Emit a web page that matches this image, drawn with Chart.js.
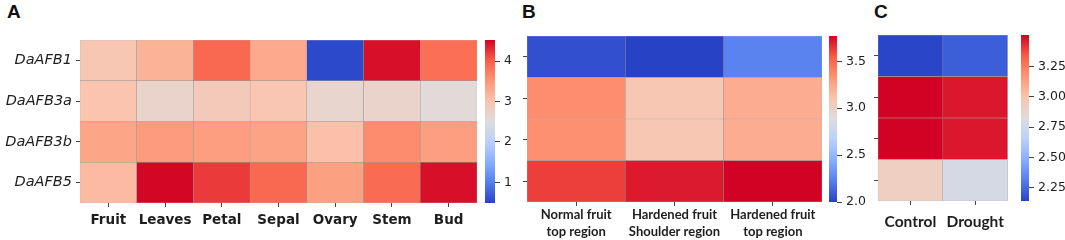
<!DOCTYPE html>
<html>
<head>
<meta charset="utf-8">
<script src="https://cdn.jsdelivr.net/npm/chart.js@4.4.1/dist/chart.umd.min.js"></script>
<style>
    body {margin: 0; width: 1065px; height: 240px; background: #fff; position: relative; overflow: hidden;}
    canvas {position: absolute; top: 0;}
    .tag {position: absolute; top: 2px; font: bold 19px "Liberation Sans", Arial, sans-serif; line-height: 19px; color: #111;}
</style>
</head>
<body>
<div class="tag" style="left:7px">A</div>
<div class="tag" style="left:522px">B</div>
<div class="tag" style="left:874px">C</div>
<canvas id="heatA" width="477" height="240" style="left:0"></canvas>
<canvas id="barA" width="40" height="240" style="left:485px"></canvas>
<canvas id="heatB" width="302" height="240" style="left:520px"></canvas>
<canvas id="barB" width="50" height="240" style="left:829px"></canvas>
<canvas id="heatC" width="144" height="240" style="left:868px"></canvas>
<canvas id="barC" width="48" height="240" style="left:1021px"></canvas>
<script>
// panel A - tissues
const tissues = ['Fruit', 'Leaves', 'Petal', 'Sepal', 'Ovary', 'Stem', 'Bud'];
const genes = ['DaAFB1', 'DaAFB3a', 'DaAFB3b', 'DaAFB5'];
const afb1Tissue = [2.95, 3.2, 3.9, 3.3, 0.55, 4.45, 3.85];
const afb3aTissue = [3.0, 2.7, 2.88, 2.97, 2.66, 2.7, 2.55];
const afb3bTissue = [3.35, 3.45, 3.42, 3.37, 3.05, 3.6, 3.42];
const afb5Tissue = [3.12, 4.5, 4.2, 3.9, 3.4, 3.88, 4.45];
const rangeA = [0.49, 4.52];
const ticksA = [1, 2, 3, 4];

// panel B - fruit regions
const regions = [['Normal fruit', 'top region'], ['Hardened fruit', 'Shoulder region'], ['Hardened fruit', 'top region']];
const afb1Region = [2.05, 2.0, 2.25];
const afb3aRegion = [3.36, 3.08, 3.22];
const afb3bRegion = [3.35, 3.08, 3.22];
const afb5Region = [3.62, 3.71, 3.77];
const rangeB = [2.0, 3.77];
const ticksB = [2.0, 2.5, 3.0, 3.5];

// panel C - drought
const treatments = ['Control', 'Drought'];
const afb1Drought = [2.15, 2.22];
const afb3aDrought = [3.51, 3.47];
const afb3bDrought = [3.51, 3.47];
const afb5Drought = [2.92, 2.78];
const rangeC = [2.14, 3.51];
const ticksC = [2.25, 2.5, 2.75, 3.0, 3.25];

const coolStops = [[40, 66, 198], [85, 125, 238], [135, 175, 255], [185, 208, 252], [222, 220, 220],
    [250, 196, 174], [253, 150, 117], [248, 92, 70], [210, 2, 36]];

function cool(t) {
    t = Math.max(0, Math.min(1, t));
    let p = t * (coolStops.length - 1);
    let i = Math.min(Math.floor(p), coolStops.length - 2);
    let f = p - i;
    let c = coolStops[i].map((v, k) => Math.round(v + (coolStops[i + 1][k] - v) * f));
    return 'rgb(' + c.join(',') + ')';
}

const tickColor = '#444';
const textColor = '#1e1e1e';

function heatmap(id, cats, rowNames, rows, range, area, xFont, showRowNames) {
    let n = rowNames.length;
    let datasets = [];
    for (let r = n - 1; r >= 0; r--) {
        datasets.push({
            label: rowNames[r],
            data: rows[r].map(() => 1),
            backgroundColor: rows[r].map(v => cool((v - range[0]) / (range[1] - range[0]))),
            borderColor: 'rgba(110,110,110,0.6)',
            borderWidth: 0.5,
            borderSkipped: false,
            barPercentage: 1,
            categoryPercentage: 1
        });
    }
    let cv = document.getElementById(id);
    return new Chart(cv, {
        type: 'bar',
        data: {labels: cats, datasets: datasets},
        options: {
            responsive: false,
            animation: false,
            layout: {padding: {top: area.top, left: 0, right: cv.width - area.right, bottom: 0}},
            plugins: {legend: {display: false}, tooltip: {enabled: false}},
            scales: {
                x: {
                    stacked: true,
                    grid: {drawOnChartArea: false, offset: false, tickLength: 4, color: tickColor},
                    border: {display: false},
                    ticks: {font: xFont, color: textColor, padding: xFont.pad, maxRotation: 0, autoSkip: false},
                    afterFit: s => { s.height = cv.height - area.bottom; }
                },
                y: {
                    stacked: true,
                    min: 0,
                    max: n,
                    grid: {drawOnChartArea: false, tickLength: 4, color: tickColor},
                    border: {display: false},
                    afterBuildTicks: s => { s.ticks = rowNames.map((nm, i) => ({value: n - i - 0.5})); },
                    ticks: {
                        font: {family: 'DejaVu Sans', size: 14.5, style: 'italic'},
                        color: textColor,
                        padding: 4,
                        callback: v => showRowNames ? rowNames[Math.round(n - 0.5 - v)] : ''
                    },
                    afterFit: s => { s.width = area.left; }
                }
            }
        }
    });
}

function colorbar(id, range, ticks, digits, top, bottom, barW) {
    let cv = document.getElementById(id);
    return new Chart(cv, {
        type: 'bar',
        data: {
            labels: [''],
            datasets: [{
                data: [range],
                barPercentage: 1,
                categoryPercentage: 1,
                backgroundColor: ctx => {
                    let ca = ctx.chart.chartArea;
                    if (!ca) return null;
                    let g = ctx.chart.ctx.createLinearGradient(0, ca.bottom, 0, ca.top);
                    for (let k = 0; k <= 32; k++) g.addColorStop(k / 32, cool(k / 32));
                    return g;
                }
            }]
        },
        options: {
            responsive: false,
            animation: false,
            layout: {padding: {top: top, bottom: cv.height - bottom, left: 0, right: 0}},
            plugins: {legend: {display: false}, tooltip: {enabled: false}},
            scales: {
                x: {display: false},
                y: {
                    position: 'right',
                    min: range[0],
                    max: range[1],
                    grid: {drawOnChartArea: false, tickLength: 5, color: tickColor},
                    border: {display: false},
                    afterBuildTicks: s => { s.ticks = ticks.map(v => ({value: v})); },
                    ticks: {
                        font: {family: 'DejaVu Sans', size: 12.5},
                        color: textColor,
                        padding: 4,
                        callback: v => v.toFixed(digits)
                    },
                    afterFit: s => { s.width = cv.width - barW; }
                }
            }
        }
    });
}

heatmap('heatA', tissues, genes, [afb1Tissue, afb3aTissue, afb3bTissue, afb5Tissue], rangeA,
    {left: 80, top: 40, right: 477, bottom: 203},
    {family: 'DejaVu Sans', size: 13.5, weight: 'bold', pad: 5}, true);
colorbar('barA', rangeA, ticksA, 0, 40, 203, 10);

heatmap('heatB', regions, genes, [afb1Region, afb3aRegion, afb3bRegion, afb5Region], rangeB,
    {left: 7, top: 36, right: 302, bottom: 202},
    {family: 'Lato', size: 13, weight: 'bold', lineHeight: 1.3, pad: 0}, false);
colorbar('barB', rangeB, ticksB, 1, 36, 202, 8);

heatmap('heatC', treatments, genes, [afb1Drought, afb3aDrought, afb3bDrought, afb5Drought], rangeC,
    {left: 10, top: 35, right: 144, bottom: 201},
    {family: 'Lato', size: 15.5, weight: 'bold', pad: 8}, false);
colorbar('barC', rangeC, ticksC, 2, 35, 201, 8);
</script>
</body>
</html>
